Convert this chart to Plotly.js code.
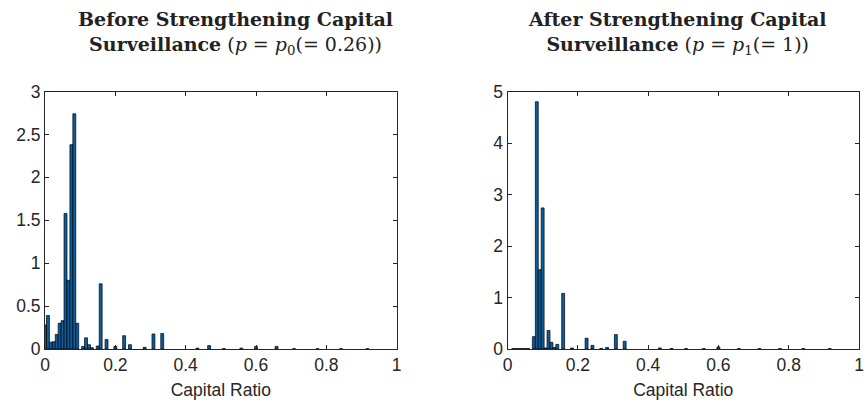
<!DOCTYPE html>
<html>
<head>
<meta charset="utf-8">
<script src="https://cdn.plot.ly/plotly-3.0.1.min.js"></script>
<style>html,body{margin:0;padding:0;background:#fff;}#chart{width:867px;height:412px;}</style>
</head>
<body>
<div id="chart"></div>
<script>
// Histogram bins: bin centre = binIndex * binWidth
var binWidth = 1 / 120;

// Before strengthening capital surveillance (p = p0 = 0.26)
var beforeBins    = [0, 1, 2, 3, 4, 5, 6, 7, 8, 9, 10, 11, 13, 14, 15, 16, 18, 19, 21, 24, 27, 29, 34, 37, 40, 52, 56, 61, 67, 72, 79, 85, 93, 101, 110];
var beforeDensity = [0.28, 0.39, 0.08, 0.085, 0.17, 0.30, 0.33, 1.58, 0.80, 2.38, 2.74, 0.30, 0.03, 0.13, 0.05, 0.015, 0.035, 0.76, 0.11, 0.03, 0.155, 0.05, 0.02, 0.175, 0.18, 0.01, 0.04, 0.005, 0.01, 0.03, 0.03, 0.004, 0.004, 0.004, 0.004];

// After strengthening capital surveillance (p = p1 = 1)
var afterBins    = [2, 3, 4, 5, 6, 7, 9, 10, 11, 12, 13, 14, 15, 16, 17, 19, 22, 27, 29, 32, 34, 37, 40, 52, 56, 61, 67, 72, 79, 86, 93, 101, 110];
var afterDensity = [0.008, 0.01, 0.01, 0.008, 0.01, 0.01, 0.24, 4.80, 1.54, 2.74, 0.02, 0.36, 0.13, 0.03, 0.09, 1.08, 0.02, 0.21, 0.07, 0.01, 0.03, 0.28, 0.15, 0.02, 0.01, 0.008, 0.008, 0.04, 0.008, 0.008, 0.008, 0.008, 0.008];

var xTickVals = [0, 0.2, 0.4, 0.6, 0.8, 1];
var xLabel = 'Capital Ratio';
var titleBefore = '<b>Before Strengthening Capital</b><br><b>Surveillance</b> (<i>p</i> = <i>p</i><sub>0</sub>(= 0.26))';
var titleAfter  = '<b>After Strengthening Capital</b><br><b>Surveillance</b> (<i>p</i> = <i>p</i><sub>1</sub>(= 1))';

function centres(bins) { return bins.map(function (k) { return k * binWidth; }); }

var barStyle = { color: '#0a5e9e', line: { color: '#000000', width: 0.7 } };

var traces = [
  { type: 'bar', x: centres(beforeBins), y: beforeDensity, width: binWidth, marker: barStyle, xaxis: 'x', yaxis: 'y', showlegend: false },
  { type: 'bar', x: centres(afterBins), y: afterDensity, width: binWidth, marker: barStyle, xaxis: 'x2', yaxis: 'y2', showlegend: false }
];

var axisCol = '#262626';
var tickFont = { family: 'Liberation Sans, Arial, sans-serif', size: 17.5, color: axisCol };
function xax(domain, anchor) {
  return {
    domain: domain, anchor: anchor, range: [0, 1], tickvals: xTickVals,
    showline: true, mirror: 'allticks', linecolor: axisCol, linewidth: 1,
    ticks: 'inside', ticklen: 4, tickcolor: axisCol, tickwidth: 1,
    showgrid: false, zeroline: false, tickfont: tickFont,
    title: { text: xLabel, font: { family: 'Liberation Sans, Arial, sans-serif', size: 17.5, color: axisCol }, standoff: 9 }
  };
}
function yax(domain, anchor, top, step) {
  return {
    domain: domain, anchor: anchor, range: [0, top], dtick: step, tick0: 0,
    showline: true, mirror: 'allticks', linecolor: axisCol, linewidth: 1,
    ticks: 'inside', ticklen: 4, tickcolor: axisCol, tickwidth: 1,
    showgrid: false, zeroline: false, tickfont: tickFont
  };
}

var yDom = [63 / 412, 320.5 / 412];
var titleFont = { family: 'DejaVu Serif, serif', size: 19, color: '#222222' };

var layout = {
  width: 867, height: 412,
  margin: { l: 0, r: 0, t: 0, b: 0 },
  paper_bgcolor: '#ffffff', plot_bgcolor: '#ffffff',
  bargap: 0,
  xaxis: xax([45 / 867, 396.7 / 867], 'y'),
  yaxis: yax(yDom, 'x', 3, 0.5),
  xaxis2: xax([507.5 / 867, 859 / 867], 'y2'),
  yaxis2: yax(yDom, 'x2', 5, 1),
  annotations: [
    { text: titleBefore, xref: 'paper', yref: 'paper', x: 235 / 867, y: (412 - 33) / 412, xanchor: 'center', yanchor: 'middle', showarrow: false, font: titleFont, align: 'center' },
    { text: titleAfter, xref: 'paper', yref: 'paper', x: 677 / 867, y: (412 - 33) / 412, xanchor: 'center', yanchor: 'middle', showarrow: false, font: titleFont, align: 'center' }
  ]
};

Plotly.newPlot('chart', traces, layout, { staticPlot: true, displayModeBar: false });
</script>
</body>
</html>
